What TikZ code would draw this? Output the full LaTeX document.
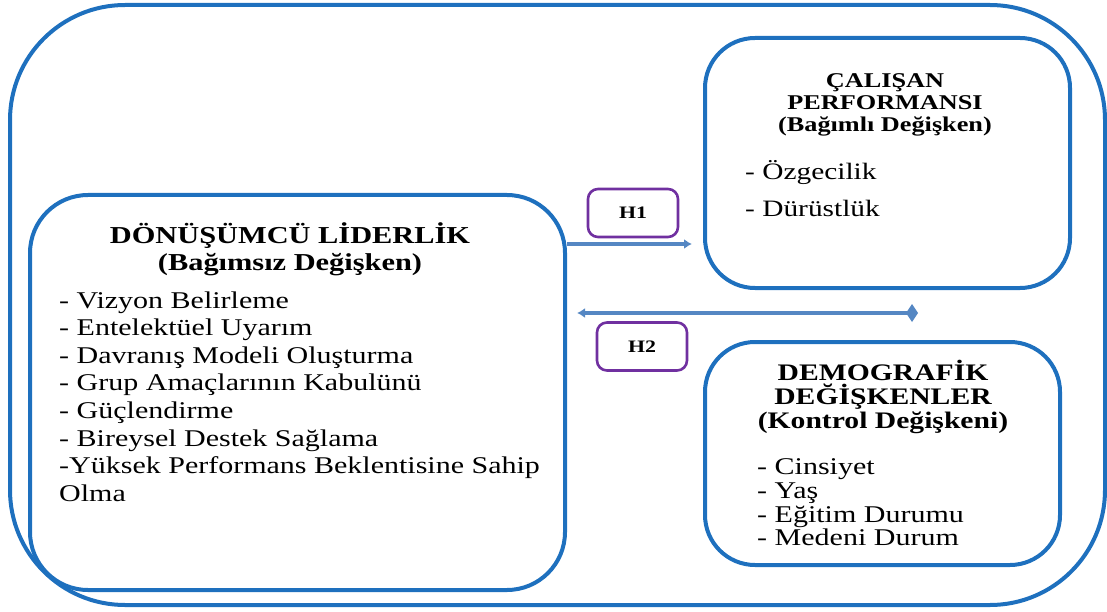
\documentclass[tikz,border=0pt]{standalone}
\usepackage{fontspec}
\setmainfont{Liberation Serif}[FakeStretch=1.25]
\usetikzlibrary{arrows.meta}
\definecolor{boxblue}{RGB}{30,112,190}
\definecolor{arrblue}{RGB}{85,135,195}
\definecolor{hpurple}{RGB}{112,48,160}
\tikzset{
  hbox/.style={draw=hpurple, line width=2.6pt, rounded corners=10pt, minimum width=90pt, minimum height=48pt, inner sep=0pt, font=\fontsize{17.5}{18}\selectfont\bfseries},
  arr/.style={draw=arrblue, line width=4.2pt},
  ttl/.style={align=center, inner sep=0pt},
  itm/.style={align=left, inner sep=0pt, anchor=west},
}
\begin{document}
\begin{tikzpicture}[x=1pt,y=-1pt]
\useasboundingbox (0,0) rectangle (1107,612);
% outer frame
\node[draw=boxblue, line width=4pt, rounded corners=115pt, minimum width=1095pt, minimum height=600pt] (outer) at (557.5,305) {};
% left box
\node[draw=boxblue, line width=4pt, rounded corners=58pt, minimum width=535pt, minimum height=395pt] (lt) at (297.5,392.5) {};
\node[ttl, font=\fontsize{24.3}{27}\selectfont\bfseries] (ltt) at (290,249.5) {DÖNÜŞÜMCÜ LİDERLİK\\(Bağımsız Değişken)};
\node[itm, font=\fontsize{24}{27.6}\selectfont] (lti) at (59,396.5) {- Vizyon Belirleme\\- Entelektüel Uyarım\\- Davranış Modeli Oluşturma\\- Grup Amaçlarının Kabulünü\\- Güçlendirme\\- Bireysel Destek Sağlama\\-Yüksek Performans Beklentisine Sahip\\Olma};
% right top box
\node[draw=boxblue, line width=4pt, rounded corners=50pt, minimum width=365pt, minimum height=250pt] (rt) at (887.5,163) {};
\node[ttl, font=\fontsize{21}{22}\selectfont\bfseries] (rtt) at (885,105) {ÇALIŞAN\\PERFORMANSI\\(Bağımlı Değişken)};
\node[itm, font=\fontsize{23.5}{37}\selectfont] (rti) at (745,188.5) {- Özgecilik\\- Dürüstlük};
% right bottom box
\node[draw=boxblue, line width=4pt, rounded corners=50pt, minimum width=355pt, minimum height=223pt] (rb) at (882.5,453.5) {};
\node[ttl, font=\fontsize{23.7}{24}\selectfont\bfseries] (rbt) at (883,397) {DEMOGRAFİK\\DEĞİŞKENLER\\(Kontrol Değişkeni)};
\node[itm, font=\fontsize{24}{23.7}\selectfont] (rbi) at (757,502.5) {- Cinsiyet\\- Yaş\\- Eğitim Durumu\\- Medeni Durum};
% hypothesis labels
\node[hbox] (h1) at (633,213) {H1};
\node[hbox] (h2) at (642,346.5) {H2};
% arrows
\coordinate (h1end) at (692,244);
\coordinate (h2end) at (918,313);
\draw[arr, -{Latex[length=8pt,width=10pt]}] (h1end -| lt.east) -- (h1end);
\draw[arr, {Latex[length=8pt,width=10pt]}-{Diamond[length=12pt,width=18pt]}] ([xshift=10pt]h2end -| lt.east) -- (h2end);
\end{tikzpicture}
\end{document}
